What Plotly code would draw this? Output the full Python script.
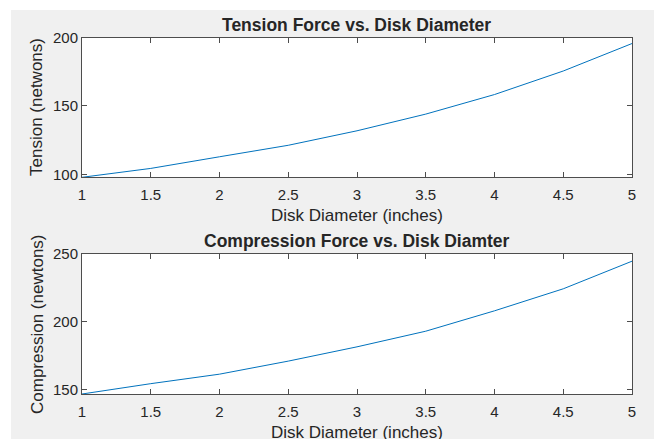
import plotly.graph_objects as go

# ---- data ----
diameter = [1, 1.5, 2, 2.5, 3, 3.5, 4, 4.5, 5]
tension = [97.8, 104.3, 112.8, 121.2, 131.8, 144.0, 158.3, 175.5, 195.6]
compression = [147.0, 154.6, 161.6, 171.2, 181.7, 193.2, 208.2, 224.4, 244.7]

x_ticks = [1, 1.5, 2, 2.5, 3, 3.5, 4, 4.5, 5]
x_tick_text = ["1", "1.5", "2", "2.5", "3", "3.5", "4", "4.5", "5"]
top_y_ticks = [100, 150, 200]
bot_y_ticks = [150, 200, 250]
top_y_range = [97.8, 200]
bot_y_range = [147.0, 250]

W, H = 654, 439
def px_x(x):
    return x / W
def px_y(y):
    return 1 - y / H

LINE = "#0072BD"
AXC = "#4d4d4d"
TXT = "#262626"
FONT = "Liberation Sans, Arial, sans-serif"

fig = go.Figure()
fig.add_trace(go.Scatter(x=diameter, y=tension, mode="lines",
                         line=dict(color=LINE, width=1), xaxis="x", yaxis="y",
                         showlegend=False))
fig.add_trace(go.Scatter(x=diameter, y=compression, mode="lines",
                         line=dict(color=LINE, width=1), xaxis="x2", yaxis="y2",
                         showlegend=False))

xdom = [px_x(82), px_x(632)]
top_dom = [px_y(177.3), px_y(37.5)]
bot_dom = [px_y(394), px_y(254)]

common_x = dict(range=[1, 5], tickvals=x_ticks, ticktext=x_tick_text,
                ticks="inside", ticklen=5, tickcolor=AXC, tickwidth=1,
                showline=True, linecolor=AXC, linewidth=1, mirror="ticks",
                showgrid=False, zeroline=False, domain=xdom, automargin=False,
                tickfont=dict(family=FONT, size=15, color=TXT),
                ticklabelstandoff=4)
common_y = dict(ticks="inside", ticklen=5, tickcolor=AXC, tickwidth=1,
                showline=True, linecolor=AXC, linewidth=1, mirror="ticks",
                showgrid=False, zeroline=False, automargin=False,
                tickfont=dict(family=FONT, size=15, color=TXT),
                ticklabelstandoff=0)

fig.update_layout(
    width=W, height=H,
    margin=dict(l=0, r=0, t=0, b=0),
    paper_bgcolor="#F0F0F0",
    plot_bgcolor="white",
    xaxis=dict(anchor="y", **common_x),
    yaxis=dict(anchor="x", domain=top_dom, range=top_y_range,
               tickvals=top_y_ticks, **common_y),
    xaxis2=dict(anchor="y2", **common_x),
    yaxis2=dict(anchor="x2", domain=bot_dom, range=bot_y_range,
                tickvals=bot_y_ticks, **common_y),
    shapes=[
        dict(type="rect", xref="paper", yref="paper", x0=0, x1=1,
             y0=px_y(10), y1=1, fillcolor="white", line=dict(width=0)),
        dict(type="rect", xref="paper", yref="paper", x0=0, x1=px_x(11),
             y0=0, y1=1, fillcolor="white", line=dict(width=0)),
    ],
)

cx = px_x(357)
ann = [
    dict(text="<b>Tension Force vs. Disk Diameter</b>", x=cx, y=px_y(24.5), size=17.5),
    dict(text="Disk Diameter (inches)", x=cx, y=px_y(215.5), size=17),
    dict(text="<b>Compression Force vs. Disk Diamter</b>", x=cx, y=px_y(241.5), size=17.5),
    dict(text="Disk Diameter (inches)", x=cx, y=px_y(432), size=17),
]
for a in ann:
    fig.add_annotation(text=a["text"], x=a["x"], y=a["y"], xref="paper", yref="paper",
                       xanchor="center", yanchor="middle", showarrow=False,
                       font=dict(family=FONT, size=a["size"], color=TXT))

fig.add_annotation(text="Tension (netwons)", x=px_x(37), y=px_y(107),
                   xref="paper", yref="paper", textangle=-90, showarrow=False,
                   xanchor="center", yanchor="middle",
                   font=dict(family=FONT, size=17, color=TXT))
fig.add_annotation(text="Compression (newtons)", x=px_x(37), y=px_y(324),
                   xref="paper", yref="paper", textangle=-90, showarrow=False,
                   xanchor="center", yanchor="middle",
                   font=dict(family=FONT, size=17, color=TXT))

fig.write_html(
    "out.html",
    config={"displayModeBar": False, "responsive": False},
    post_script="document.body.style.margin='0';document.body.style.padding='0';"
                "document.documentElement.style.overflow='hidden';",
)
